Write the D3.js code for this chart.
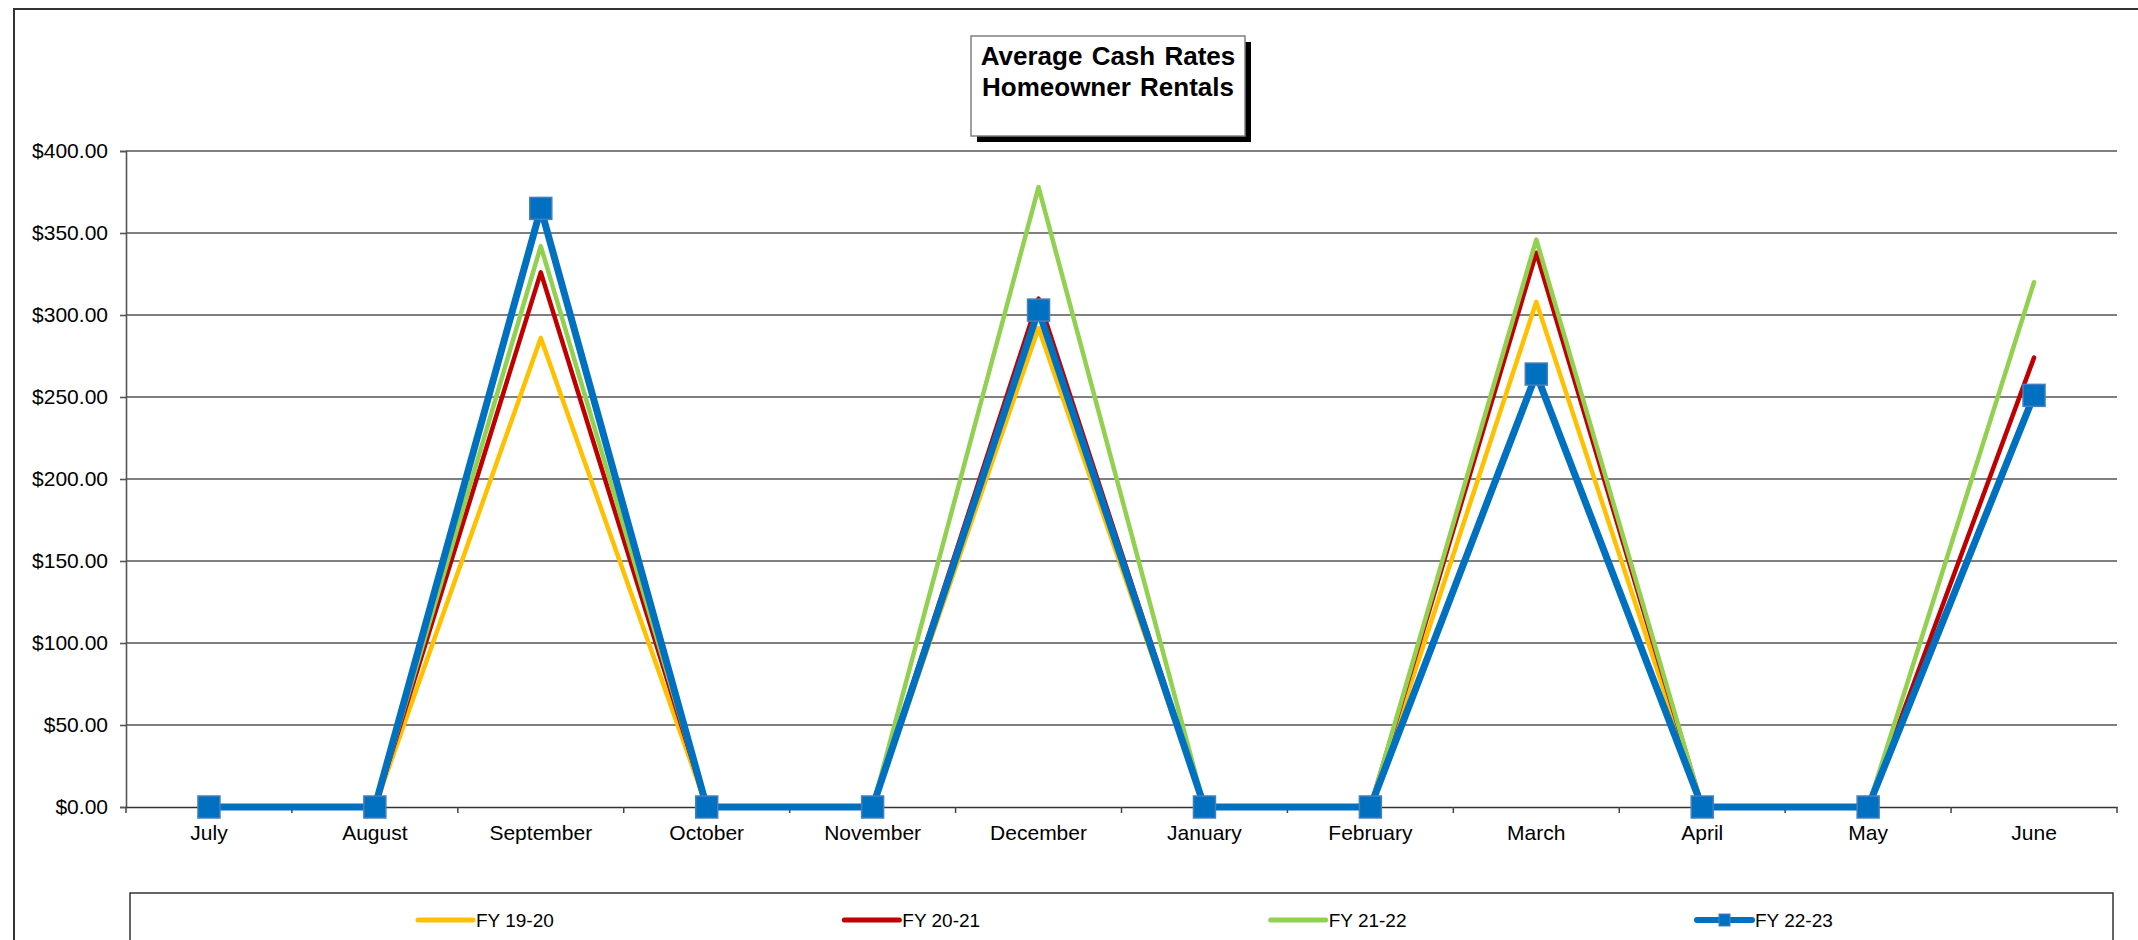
<!DOCTYPE html>
<html>
<head>
<meta charset="utf-8">
<script src="https://cdn.jsdelivr.net/npm/d3@7"></script>
<style>
  html, body { margin: 0; padding: 0; background: #fff; }
  svg { display: block; }
  text { font-family: "Liberation Sans", Arial, sans-serif; fill: #000; }
</style>
</head>
<body>
<script>
const months = ["July","August","September","October","November","December","January","February","March","April","May","June"];
const fy1920 = [0, 0, 286, 0, 0, 292, 0, 0, 308, 0, 0, null];
const fy2021 = [0, 0, 326, 0, 0, 310, 0, 0, 338, 0, 0, 274];
const fy2122 = [0, 0, 342, 0, 0, 378, 0, 0, 346, 0, 0, 320];
const fy2223 = [0, 0, 365, 0, 0, 303, 0, 0, 264, 0, 0, 251];
const seriesNames = ["FY 19-20", "FY 20-21", "FY 21-22", "FY 22-23"];
const yTicks = [0, 50, 100, 150, 200, 250, 300, 350, 400];
const titleLines = ["Average Cash Rates", "Homeowner Rentals"];

(function () {
const series = [
  { name: seriesNames[0], values: fy1920, color: "#FFC000", width: 4.5, marker: false },
  { name: seriesNames[1], values: fy2021, color: "#C00000", width: 4.5, marker: false },
  { name: seriesNames[2], values: fy2122, color: "#92D050", width: 4.5, marker: false },
  { name: seriesNames[3], values: fy2223, color: "#0070C0", width: 7, marker: true }
];

const W = 2138, H = 940;
const svg = d3.select("body").append("svg").attr("width", W).attr("height", H);
svg.append("rect").attr("width", W).attr("height", H).attr("fill", "#fff");

// outer chart border (extends past right/bottom edges)
svg.append("rect").attr("x", 14).attr("y", 9).attr("width", 2300).attr("height", 1100)
  .attr("fill", "none").attr("stroke", "#333").attr("stroke-width", 2);

const pLeft = 126, pRight = 2117, pTop = 151, pBottom = 807;
const x = d3.scaleBand().domain(months).range([pLeft, pRight]).padding(0);
const y = d3.scaleLinear().domain([0, 400]).range([pBottom, pTop]);

// gridlines
svg.append("g").selectAll("line").data(yTicks.filter(d => d > 0)).join("line")
  .attr("x1", pLeft).attr("x2", pRight)
  .attr("y1", d => y(d)).attr("y2", d => y(d))
  .attr("stroke", "#555").attr("stroke-width", 1.7);

// y axis
const yAxis = d3.axisLeft(y).tickValues(yTicks).tickSize(6).tickPadding(12)
  .tickFormat(d => "$" + d3.format(".2f")(d));
const gy = svg.append("g").attr("transform", `translate(${pLeft},0)`).call(yAxis);
gy.select(".domain").attr("stroke", "#555").attr("stroke-width", 1.6);
gy.selectAll(".tick line").attr("stroke", "#555").attr("stroke-width", 1.6);
gy.selectAll(".tick text").attr("font-size", 21).attr("font-family", "'Liberation Sans', Arial, sans-serif").attr("fill", "#000");

// x axis
const xAxis = d3.axisBottom(x).tickSize(0).tickPadding(0);
const gx = svg.append("g").attr("transform", `translate(0,${pBottom})`).call(xAxis);
gx.select(".domain").attr("stroke", "#333").attr("stroke-width", 1.6);
gx.selectAll(".tick text").attr("font-size", 21).attr("font-family", "'Liberation Sans', Arial, sans-serif")
  .attr("fill", "#000").attr("dy", null).attr("y", 33);
// band boundary ticks
const boundaries = months.map(m => x(m)).concat([pRight]);
svg.append("g").selectAll("line").data(boundaries).join("line")
  .attr("x1", d => d).attr("x2", d => d).attr("y1", pBottom).attr("y2", pBottom + 6)
  .attr("stroke", "#444").attr("stroke-width", 1.5);

// lines
const line = d3.line()
  .defined(d => d != null)
  .x((d, i) => x(months[i]) + x.bandwidth() / 2)
  .y(d => y(d));

series.forEach(s => {
  svg.append("path").datum(s.values)
    .attr("d", line)
    .attr("fill", "none")
    .attr("stroke", s.color)
    .attr("stroke-width", s.width)
    .attr("stroke-linejoin", "round")
    .attr("stroke-linecap", "round");
  if (s.marker) {
    const ms = 22;
    svg.append("g").selectAll("rect").data(s.values.map((v, i) => ({ v, i })).filter(d => d.v != null)).join("rect")
      .attr("x", d => x(months[d.i]) + x.bandwidth() / 2 - ms / 2)
      .attr("y", d => y(d.v) - ms / 2)
      .attr("width", ms).attr("height", ms)
      .attr("fill", s.color)
      .attr("stroke", "#4a7ebb").attr("stroke-width", 1.5);
  }
});

// title box
const tb = { x: 971, y: 36, w: 274, h: 100 };
svg.append("rect").attr("x", tb.x + 6).attr("y", tb.y + 6).attr("width", tb.w).attr("height", tb.h).attr("fill", "#000");
svg.append("rect").attr("x", tb.x).attr("y", tb.y).attr("width", tb.w).attr("height", tb.h)
  .attr("fill", "#fff").attr("stroke", "#808080").attr("stroke-width", 1.5);
svg.append("g").selectAll("text").data(titleLines).join("text")
  .attr("x", tb.x + tb.w / 2).attr("y", (d, i) => 65 + i * 31)
  .attr("text-anchor", "middle").attr("font-weight", "bold").attr("font-size", 26)
  .attr("word-spacing", 2)
  .text(d => d);

// legend box
svg.append("rect").attr("x", 130).attr("y", 893).attr("width", 1983).attr("height", 200)
  .attr("fill", "#fff").attr("stroke", "#333").attr("stroke-width", 1.5);
const legendX = d3.scalePoint().domain(seriesNames).range([418, 1697]);
const lg = svg.append("g").selectAll("g").data(series).join("g")
  .attr("transform", d => `translate(${legendX(d.name)},920)`);
lg.append("line").attr("x1", 0).attr("x2", 55).attr("y1", 0).attr("y2", 0)
  .attr("stroke", d => d.color).attr("stroke-width", d => d.marker ? 6 : 5).attr("stroke-linecap", "round");
lg.filter(d => d.marker).append("rect").attr("x", 22).attr("y", -6).attr("width", 11).attr("height", 12)
  .attr("fill", d => d.color).attr("stroke", "#4a7ebb").attr("stroke-width", 1);
lg.append("text").attr("x", 58).attr("y", 0).attr("dy", "0.35em").attr("font-size", 19).text(d => d.name);
})();
</script>
</body>
</html>
